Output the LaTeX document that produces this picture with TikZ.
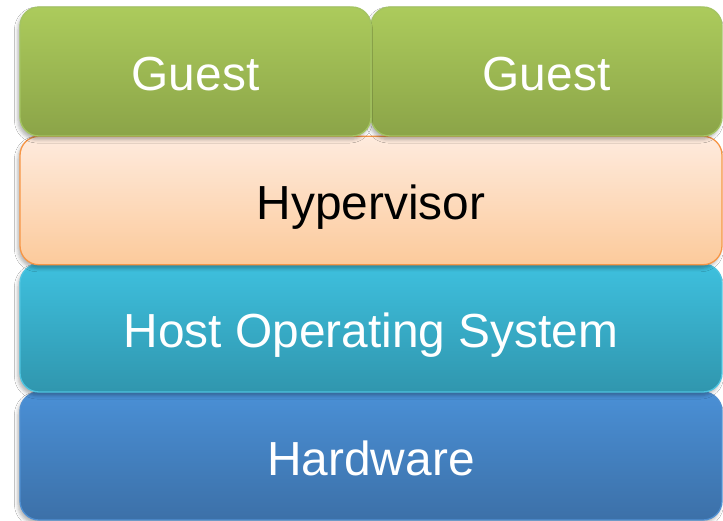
\documentclass[tikz,border=0pt]{standalone}
\usepackage{fontspec}
\setmainfont{Liberation Sans}
\usetikzlibrary{shadows.blur}
\definecolor{gtop}{HTML}{ACCB5C}
\definecolor{gbot}{HTML}{8BA448}
\definecolor{gline}{HTML}{A4C462}
\definecolor{htop}{HTML}{FEEBDE}
\definecolor{hbot}{HTML}{FCCA9B}
\definecolor{hline}{HTML}{F79646}
\definecolor{otop}{HTML}{3EC0DE}
\definecolor{obot}{HTML}{3096AE}
\definecolor{oline}{HTML}{4EC4E0}
\definecolor{wtop}{HTML}{4A90D6}
\definecolor{wbot}{HTML}{3C70A8}
\definecolor{wline}{HTML}{5090D2}
\tikzset{
  layer/.style={rounded corners=19bp, line width=1.3bp, inner sep=0pt,
    font=\fontsize{48}{58}\selectfont, text height=39bp, text depth=1bp,
    blur shadow={shadow xshift=-2bp, shadow yshift=-3.5bp, shadow blur radius=3.5bp, shadow opacity=30}},
  guestbox/.style={layer, draw=gline, top color=gtop, bottom color=gbot, text=white,
    minimum width=351bp, minimum height=129bp},
  hyperbox/.style={layer, draw=hline, top color=htop, bottom color=hbot, text=black,
    minimum width=702bp, minimum height=128.5bp},
  hostbox/.style={layer, draw=oline, top color=otop, bottom color=obot, text=white,
    minimum width=702bp, minimum height=128bp},
  hardbox/.style={layer, draw=wline, top color=wtop, bottom color=wbot, text=white,
    minimum width=702bp, minimum height=128bp}
}
\begin{document}
\begin{tikzpicture}[x=1bp, y=-1bp]
\useasboundingbox[fill=white] (0,0) rectangle (723,521);
\node[hardbox] (hw) at (371,456) {Hardware};
\node[hostbox] (os) at (371,328) {Host Operating System};
\node[hyperbox] (hv) at (371,200.5) {Hypervisor};
\node[guestbox] (g2) at (546.5,71.5) {Guest};
\node[guestbox] (g1) at (195.5,71.5) {Guest};
\end{tikzpicture}
\end{document}
